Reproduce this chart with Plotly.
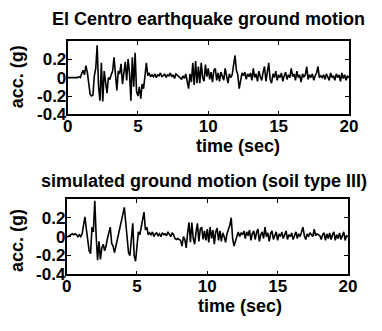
import numpy as np
import plotly.graph_objects as go

# ---- data (0.1 s sampling) ----
el_centro = [
    0, 0, 0, 0, 0, 0, 0, 0, 0.01, 0.0,
    0.04, 0.08, 0.03, 0.13, 0.06, -0.05, -0.18, -0.2, -0.19, 0.02,
    0.1, 0.35, -0.1, -0.25, 0.16, -0.26, 0.07, -0.05, -0.17, 0.0,
    -0.02, 0.03, 0.07, 0.22, 0.05, -0.14, 0.07, 0.04, 0.15, -0.07,
    0.05, 0.17, -0.03, 0.2, 0.05, -0.25, 0.22, -0.1, 0.27, -0.15,
    -0.2, -0.1, -0.23, -0.07, -0.12, 0.05, 0.16, 0.02, 0.05, 0.01,
    0.03, 0.01, 0.04, 0.0, 0.03, 0.02, 0.05, 0.01, 0.02, 0.04,
    0.0, 0.03, 0.02, 0.05, 0.01, 0.03, -0.01, 0.04, 0.02, 0.01,
    0.0, -0.02, 0.02, -0.01, 0.04, -0.03, -0.12, 0.04, -0.05, 0.16,
    -0.08, 0.18, -0.06, 0.12, -0.06, 0.16, 0.0, -0.04, 0.14, 0.01,
    0.1, -0.02, 0.06, -0.05, 0.08, 0.1, -0.03, 0.05, -0.04, 0.06,
    0.02, -0.03, 0.1, 0.01, -0.06, 0.04, 0.0, 0.03, 0.12, 0.24,
    0.08, 0.03, -0.12, -0.02, 0.05, 0.02, 0.06, -0.02, 0.04, 0.01,
    0.05, -0.03, 0.1, 0.0, 0.04, -0.04, 0.07, 0.01, -0.03, 0.06,
    0.12, -0.04, 0.05, 0.16, -0.02, -0.06, 0.04, 0.0, 0.07, -0.03,
    0.03, 0.0, 0.05, -0.04, 0.02, 0.06, -0.02, 0.03, 0.0, 0.1,
    0.01, 0.04, -0.03, 0.07, 0.0, 0.03, -0.05, 0.04, 0.01, 0.03,
    0.12, -0.02, 0.03, 0.0, 0.04, -0.03, 0.02, 0.05, 0.12, 0.0,
    0.02, 0.0, 0.03, -0.02, 0.04, 0.01, -0.03, 0.05, 0.0, 0.02,
    -0.03, 0.04, 0.0, 0.03, -0.04, 0.05, -0.01, 0.03, -0.03, 0.02,
    0.0,
]

simulated = [
    0, 0, 0.01, 0.02, 0.03, 0.02, 0.03, 0.02, 0.0, 0.02,
    0.0, 0.03, 0.12, 0.21, 0.08, -0.05, -0.15, -0.18, 0.1, 0.05,
    0.38, 0.0, -0.25, -0.05, -0.24, -0.12, -0.08, -0.15, -0.1, -0.02,
    0.04, 0.1, -0.07, -0.1, -0.17, -0.1, -0.02, 0.05, 0.12, 0.18,
    0.25, 0.31, 0.15, 0.02, -0.17, -0.2, 0.02, 0.14, -0.2, -0.26,
    -0.1, 0.05, 0.02, 0.1, 0.17, 0.26, 0.07, 0.1, 0.02, 0.04,
    0.02, 0.05, 0.0, 0.03, 0.04, 0.01, 0.03, 0.0, 0.04, 0.02,
    0.03, 0.01, 0.05, 0.02, 0.0, 0.04, 0.02, -0.02, -0.03, -0.02,
    -0.03, -0.04, -0.1, 0.0, -0.03, -0.12, 0.04, 0.15, -0.06, 0.15,
    -0.02, -0.08, 0.05, 0.14, -0.05, 0.08, 0.1, -0.03, 0.06, -0.04,
    0.08, -0.06, 0.1, -0.02, 0.07, -0.08, 0.05, 0.09, -0.04, 0.06,
    -0.05, 0.04, 0.0, -0.06, 0.03, 0.08, 0.12, 0.2, -0.02, -0.1,
    -0.04, 0.02, 0.05, 0.0, 0.04, 0.02, 0.06, -0.02, 0.05, 0.01,
    0.07, -0.04, 0.03, 0.06, -0.03, 0.04, 0.08, -0.05, 0.02, 0.05,
    -0.02, 0.1, 0.0, 0.04, -0.05, 0.03, 0.06, -0.03, 0.02, 0.05,
    -0.04, 0.03, 0.0, 0.05, -0.02, 0.03, 0.06, -0.03, 0.02, 0.0,
    0.04, -0.03, 0.02, 0.05, -0.02, 0.03, 0.0, 0.04, 0.1, 0.01,
    -0.03, 0.03, 0.0, 0.04, 0.02, 0.0, 0.08, 0.01, 0.03, 0.02,
    0.01, -0.03, 0.02, 0.04, -0.04, 0.03, -0.02, 0.04, -0.03, 0.02,
    0.05, -0.04, 0.02, -0.02, 0.04, -0.03, 0.02, 0.05, -0.04, 0.01,
    0.0,
]

time_top = np.linspace(0, 20, len(el_centro))
time_bot = np.linspace(0, 20, len(simulated))

x_ticks = [0, 5, 10, 15, 20]
x_ticktext = ["0", "5", "10", "15", "20"]
y_ticks = [-0.4, -0.2, 0, 0.2, 0.4]
y_ticktext = ["-0.4", "-0.2", "0", "0.2", ""]

title_top = "El Centro earthquake ground motion"
title_bot = "simulated ground motion (soil type III)"
x_title = "time (sec)"
y_title = "acc. (g)"

# ---- figure ----
W, H = 382, 331
FONT = dict(family="Liberation Sans, Arial, sans-serif", size=18, color="black",
            weight="bold")
TICKFONT = dict(family="Liberation Sans, Arial, sans-serif", size=17, color="black",
                weight="bold")

def px_x(p):
    return p / W

def px_y(p):
    return 1 - p / H

fig = go.Figure()
fig.add_trace(go.Scatter(x=time_top, y=el_centro, mode="lines",
                         line=dict(color="black", width=1.6), xaxis="x", yaxis="y",
                         showlegend=False))
fig.add_trace(go.Scatter(x=time_bot, y=simulated, mode="lines",
                         line=dict(color="black", width=1.6), xaxis="x2", yaxis="y2",
                         showlegend=False))

axis_common = dict(showline=True, linecolor="black", linewidth=1.8, mirror="ticks",
                   ticks="inside", ticklen=4, tickwidth=1.2, tickcolor="black",
                   showgrid=False, zeroline=False, tickfont=TICKFONT)

fig.update_layout(
    width=W, height=H,
    margin=dict(l=0, r=0, t=0, b=0),
    paper_bgcolor="white", plot_bgcolor="white",
    font=FONT,
    xaxis=dict(domain=[px_x(65), px_x(357)], range=[0, 20], anchor="y",
               tickvals=x_ticks, ticktext=x_ticktext, ticklabelstandoff=-5,
               **axis_common),
    yaxis=dict(domain=[px_y(118), px_y(42)], range=[-0.4, 0.4], anchor="x",
               tickvals=y_ticks, ticktext=y_ticktext, ticklabelstandoff=-4,
               **axis_common),
    xaxis2=dict(domain=[px_x(64), px_x(356)], range=[0, 20], anchor="y2",
                tickvals=x_ticks, ticktext=x_ticktext, ticklabelstandoff=-5,
                **axis_common),
    yaxis2=dict(domain=[px_y(283), px_y(205)], range=[-0.4, 0.4], anchor="x2",
                tickvals=y_ticks, ticktext=y_ticktext, ticklabelstandoff=-4,
                **axis_common),
)

ann = [
    (title_top, 211, 20, 0),
    (title_bot, 207, 187, 0),
    (x_title, 242, 151, 0),
    (x_title, 244, 316, 0),
    (y_title, 12, 79, -90),
    (y_title, 12, 248, -90),
]
for text, x, y, ang in ann:
    fig.add_annotation(text=text, x=px_x(x), y=px_y(y), xref="paper", yref="paper",
                       xanchor="center", yanchor="middle", showarrow=False,
                       textangle=ang, font=FONT)

fig.write_html("out.html")
